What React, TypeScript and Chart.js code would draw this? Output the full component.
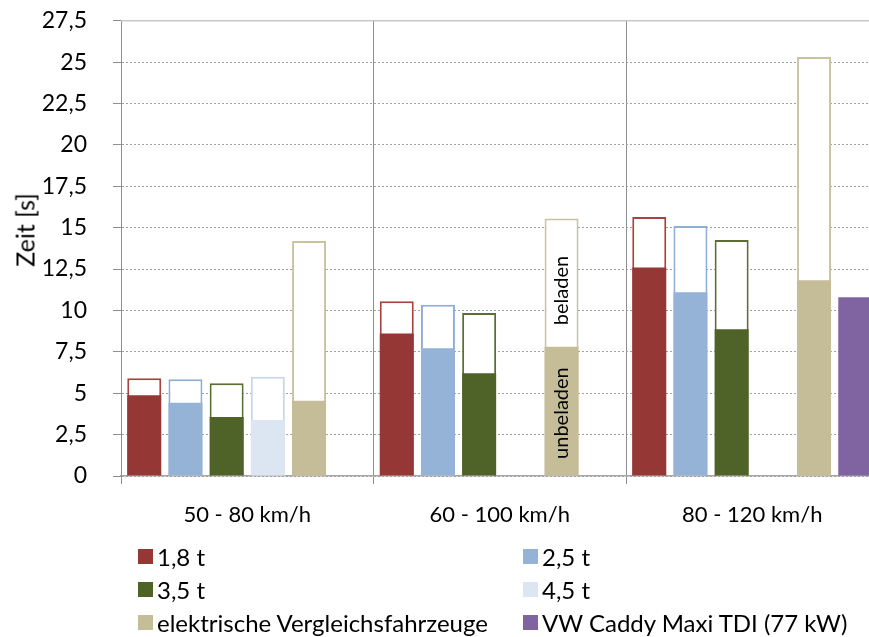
import React, { useEffect, useRef } from "react";
import { Chart, registerables } from "chart.js";

Chart.register(...registerables);

const CATEGORIES = ["50 - 80 km/h", "60 - 100 km/h", "80 - 120 km/h"];
const SERIES_NAMES = [
  "1,8 t",
  "2,5 t",
  "3,5 t",
  "4,5 t",
  "elektrische Vergleichsfahrzeuge",
  "VW Caddy Maxi TDI (77 kW)",
];
const SERIES_COLORS = ["#953735", "#95B3D7", "#4F6228", "#DCE6F2", "#C4BD97", "#8064A2"];
const OUTLINE_COLORS = ["#A8413F", "#8EAED6", "#5B6E33", "#C8D6EA", "#CAC3A0", "#8064A2"];

// unbeladen (filled part) per series
const T18_UNBELADEN = [4.87, 8.6, 12.6];
const T25_UNBELADEN = [4.42, 7.72, 11.1];
const T35_UNBELADEN = [3.56, 6.2, 8.87];
const T45_UNBELADEN = [3.38, null, null];
const ELEK_UNBELADEN = [4.55, 7.8, 11.82];
const CADDY = [null, null, 10.8];

// beladen (outlined total) per series
const T18_BELADEN = [5.9, 10.55, 15.65];
const T25_BELADEN = [5.85, 10.35, 15.1];
const T35_BELADEN = [5.6, 9.85, 14.25];
const T45_BELADEN = [6.0, null, null];
const ELEK_BELADEN = [14.2, 15.55, 25.3];

const Y_MIN = 0;
const Y_MAX = 27.5;
const Y_STEP = 2.5;

const ANNOTATION_CATEGORY = 1;
const ANNOTATION_SERIES = 4;
const ANNOTATIONS = [
  { text: "unbeladen", value: 3.8 },
  { text: "beladen", value: 11.2 },
];

const FONT = "Lato";

const annotationPlugin = {
  id: "annotations",
  afterDatasetsDraw(chart: any) {
    const { ctx, chartArea, scales } = chart;
    ctx.save();
    ctx.strokeStyle = "#c8c8c8";
    ctx.lineWidth = 1.5;
    ctx.setLineDash([]);
    ctx.beginPath();
    ctx.moveTo(chartArea.left, chartArea.top);
    ctx.lineTo(chartArea.right, chartArea.top);
    ctx.stroke();

    const meta = chart.getDatasetMeta(ANNOTATION_SERIES);
    const bar = meta.data[ANNOTATION_CATEGORY];
    if (bar) {
      ctx.fillStyle = "#000";
      ctx.font = `20px ${FONT}`;
      ctx.textAlign = "center";
      ctx.textBaseline = "middle";
      for (const a of ANNOTATIONS) {
        const y = scales.y.getPixelForValue(a.value);
        ctx.save();
        ctx.translate(bar.x, y);
        ctx.rotate(-Math.PI / 2);
        ctx.fillText(a.text, 0, 0);
        ctx.restore();
      }
    }
    ctx.restore();
  },
};

export default function App() {
  const canvasRef = useRef<HTMLCanvasElement | null>(null);

  useEffect(() => {
    if (!canvasRef.current) return;
    const filled = [T18_UNBELADEN, T25_UNBELADEN, T35_UNBELADEN, T45_UNBELADEN, ELEK_UNBELADEN, CADDY];
    const outlined = [T18_BELADEN, T25_BELADEN, T35_BELADEN, T45_BELADEN, ELEK_BELADEN];

    const datasets: any[] = [];
    filled.forEach((data, i) => {
      datasets.push({
        label: SERIES_NAMES[i],
        data,
        stack: "s" + i,
        backgroundColor: SERIES_COLORS[i],
        borderWidth: 0,
        categoryPercentage: 0.979,
        barPercentage: 0.825,
      });
    });
    outlined.forEach((data, i) => {
      datasets.push({
        label: SERIES_NAMES[i] + " beladen",
        data,
        stack: "s" + i,
        backgroundColor: "#ffffff",
        borderColor: OUTLINE_COLORS[i],
        borderWidth: 2,
        categoryPercentage: 0.979,
        barPercentage: 0.825,
      });
    });

    const chart = new Chart(canvasRef.current, {
      type: "bar",
      data: { labels: CATEGORIES, datasets },
      options: {
        animation: false,
        responsive: false,
        devicePixelRatio: 1,
        layout: { padding: { left: 0, right: 21.5, top: 20.7, bottom: 0 } },
        plugins: {
          legend: { display: false },
          tooltip: { enabled: false },
        },
        scales: {
          x: {
            type: "category",
            stacked: true,
            offset: true,
            grid: {
              offset: true,
              color: "#8f8f8f",
              lineWidth: 1,
              tickLength: 8,
              drawOnChartArea: true,
            },
            border: { display: true, color: "#a6a6a6", width: 1.5 },
            ticks: {
              color: "#000",
              font: { family: FONT, size: 22 },
              padding: 18,
              maxRotation: 0,
            },
            afterFit(scale: any) {
              scale.height = 161;
            },
          },
          y: {
            type: "linear",
            stacked: false,
            min: Y_MIN,
            max: Y_MAX,
            ticks: {
              stepSize: Y_STEP,
              color: "#000",
              font: { family: FONT, size: 23 },
              padding: 26,
              callback: (v: any) => String(v).replace(".", ","),
            },
            grid: {
              color: "#a0a0a0",
              lineWidth: 1,
              tickLength: 8,
              tickColor: "#8f8f8f",
              tickBorderDash: [],
            },
            border: { display: true, color: "#8f8f8f", width: 1, dash: [2, 2] },
            afterFit(scale: any) {
              scale.width = 121;
              scale.paddingTop = 0;
              scale.paddingBottom = 0;
            },
          },
        },
      },
      plugins: [annotationPlugin],
    });

    const fonts: any = (document as any).fonts;
    if (fonts && fonts.load) {
      Promise.all([fonts.load(`22px ${FONT}`), fonts.load(`20px ${FONT}`)]).then(() => chart.update()).catch(() => {});
    }
    return () => chart.destroy();
  }, []);

  const legendRows = [
    [0, 1],
    [2, 3],
    [4, 5],
  ];
  const rowCenters = [556, 589, 622];
  const colSquareX = [138, 523];

  return (
    <div
      style={{
        position: "fixed",
        left: 0,
        top: 0,
        width: 869,
        height: 637,
        overflow: "hidden",
        background: "#fff",
        fontFamily: FONT,
      }}
    >
      <canvas ref={canvasRef} width={900} height={637} style={{ position: "absolute", left: 0, top: 0 }} />
      <div
        style={{
          position: "absolute",
          left: 25,
          top: 230,
          transform: "translate(-50%, -50%) rotate(-90deg)",
          fontSize: 25,
          whiteSpace: "nowrap",
          color: "#000",
          lineHeight: 1,
        }}
      >
        Zeit [s]
      </div>
      {legendRows.map((row, r) =>
        row.map((si, c) => (
          <div
            key={si}
            style={{
              position: "absolute",
              left: colSquareX[c],
              top: rowCenters[r] - 14,
              height: 28,
              display: "flex",
              alignItems: "center",
              whiteSpace: "nowrap",
              fontSize: 24,
              color: "#000",
            }}
          >
            <span
              style={{
                display: "inline-block",
                width: 15,
                height: 15,
                background: SERIES_COLORS[si],
                marginRight: 4,
              }}
            />
            <span>{SERIES_NAMES[si]}</span>
          </div>
        ))
      )}
    </div>
  );
}
